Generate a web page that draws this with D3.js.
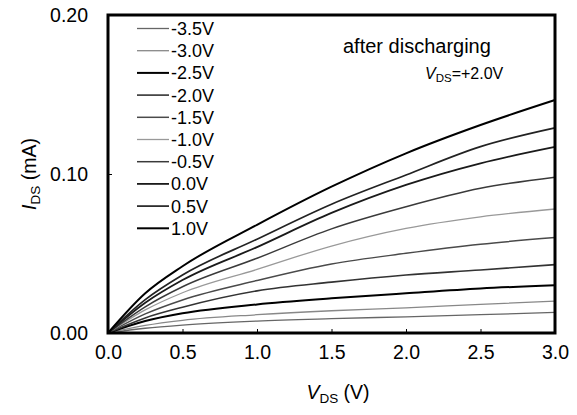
<!DOCTYPE html>
<html>
<head>
<meta charset="utf-8">
<script src="https://cdn.jsdelivr.net/npm/d3@7"></script>
<style>
  body { margin: 0; background: #fff; }
  text { font-family: "Liberation Sans", Arial, sans-serif; fill: #000; }
</style>
</head>
<body>
<svg id="chart" width="577" height="415"></svg>
<script>
// drain voltage sample points (V)
const vds = [0, 0.25, 0.5, 1.0, 1.5, 2.0, 2.5, 3.0];

// gate voltages, legend order
const gateLabels = ["-3.5V", "-3.0V", "-2.5V", "-2.0V", "-1.5V", "-1.0V", "-0.5V", "0.0V", "0.5V", "1.0V"];

// drain current per gate voltage (mA)
const iM35 = [0, 0.003, 0.005, 0.0075, 0.009, 0.0102, 0.0115, 0.013];
const iM30 = [0, 0.0048, 0.008, 0.0115, 0.014, 0.0158, 0.018, 0.020];
const iM25 = [0, 0.0075, 0.0124, 0.018, 0.0218, 0.025, 0.028, 0.030];
const iM20 = [0, 0.0095, 0.0162, 0.0265, 0.032, 0.0365, 0.0396, 0.043];
const iM15 = [0, 0.012, 0.0208, 0.033, 0.0434, 0.0501, 0.0558, 0.060];
const iM10 = [0, 0.0145, 0.0253, 0.040, 0.0547, 0.0658, 0.0731, 0.078];
const iM05 = [0, 0.0165, 0.0291, 0.047, 0.0655, 0.0794, 0.091, 0.098];
const i00 = [0, 0.019, 0.0333, 0.054, 0.0755, 0.0931, 0.1067, 0.117];
const iP05 = [0, 0.021, 0.0365, 0.059, 0.081, 0.0994, 0.1172, 0.129];
const iP10 = [0, 0.025, 0.042, 0.068, 0.092, 0.113, 0.1308, 0.1465];

const series = [iM35, iM30, iM25, iM20, iM15, iM10, iM05, i00, iP05, iP10];

// line look per gate voltage
const strokes = ["#666", "#888", "#000", "#333", "#4a4a4a", "#999", "#3a3a3a", "#1a1a1a", "#222", "#000"];
const widths = [1.3, 1.3, 2, 1.6, 1.5, 1.3, 1.5, 1.8, 1.7, 2];

const xTicks = [0, 0.5, 1.0, 1.5, 2.0, 2.5, 3.0];
const yTicks = [0, 0.10, 0.20];

const svg = d3.select("#chart");
const pl = 108, pr = 555, pt = 15, pb = 333;

const x = d3.scaleLinear().domain([0, 3]).range([pl, pr]);
const y = d3.scaleLinear().domain([0, 0.2]).range([pb, pt]);

// curves
const line = d3.line()
  .x((d, i) => x(vds[i]))
  .y(d => y(d))
  .curve(d3.curveMonotoneX);

svg.append("g")
  .selectAll("path")
  .data(series)
  .enter()
  .append("path")
  .attr("d", line)
  .attr("fill", "none")
  .attr("stroke", (d, i) => strokes[i])
  .attr("stroke-width", (d, i) => widths[i]);

// axes with small inward ticks
svg.append("g")
  .attr("transform", `translate(0,${pb})`)
  .call(d3.axisBottom(x).tickValues(xTicks).tickFormat(d3.format(".1f")).tickSizeInner(-4).tickSizeOuter(0).tickPadding(12))
  .call(g => g.select(".domain").remove())
  .call(g => g.selectAll("text").attr("font-size", 19.5).attr("font-family", "Liberation Sans, Arial, sans-serif"));

svg.append("g")
  .attr("transform", `translate(${pl},0)`)
  .call(d3.axisLeft(y).tickValues(yTicks).tickFormat(d3.format(".2f")).tickSizeInner(-4).tickSizeOuter(0).tickPadding(20))
  .call(g => g.select(".domain").remove())
  .call(g => g.selectAll("text").attr("font-size", 19.5).attr("font-family", "Liberation Sans, Arial, sans-serif"));

// frame
svg.append("rect")
  .attr("x", pl).attr("y", pt)
  .attr("width", pr - pl).attr("height", pb - pt)
  .attr("fill", "none")
  .attr("stroke", "#000")
  .attr("stroke-width", 3);

// legend, top entry is -3.5V
const legend = svg.append("g");
gateLabels.forEach((lab, i) => {
  const ly = 28.5 + i * 22.2;
  legend.append("line")
    .attr("x1", 137).attr("x2", 169)
    .attr("y1", ly).attr("y2", ly)
    .attr("stroke", strokes[i])
    .attr("stroke-width", widths[i]);
  legend.append("text")
    .attr("x", 171).attr("y", ly + 6.5)
    .attr("font-size", 18)
    .text(lab);
});

// annotations
svg.append("text")
  .attr("x", 343).attr("y", 53)
  .attr("font-size", 20)
  .text("after discharging");

const vt = svg.append("text").attr("x", 425).attr("y", 79).attr("font-size", 16);
vt.append("tspan").attr("font-style", "italic").text("V");
vt.append("tspan").attr("font-size", 11.5).attr("dy", 3).text("DS");
vt.append("tspan").attr("dy", -3).text("=+2.0V");

// axis titles
const xt = svg.append("text").attr("x", 338).attr("y", 399).attr("text-anchor", "middle").attr("font-size", 19.5);
xt.append("tspan").attr("font-style", "italic").text("V");
xt.append("tspan").attr("font-size", 13.5).attr("dy", 4).text("DS");
xt.append("tspan").attr("dy", -4).text(" (V)");

const yt = svg.append("text")
  .attr("transform", "translate(36,174) rotate(-90)")
  .attr("text-anchor", "middle")
  .attr("font-size", 19.5);
yt.append("tspan").attr("font-style", "italic").text("I");
yt.append("tspan").attr("font-size", 13.5).attr("dy", 4).text("DS");
yt.append("tspan").attr("dy", -4).text(" (mA)");
</script>
</body>
</html>
